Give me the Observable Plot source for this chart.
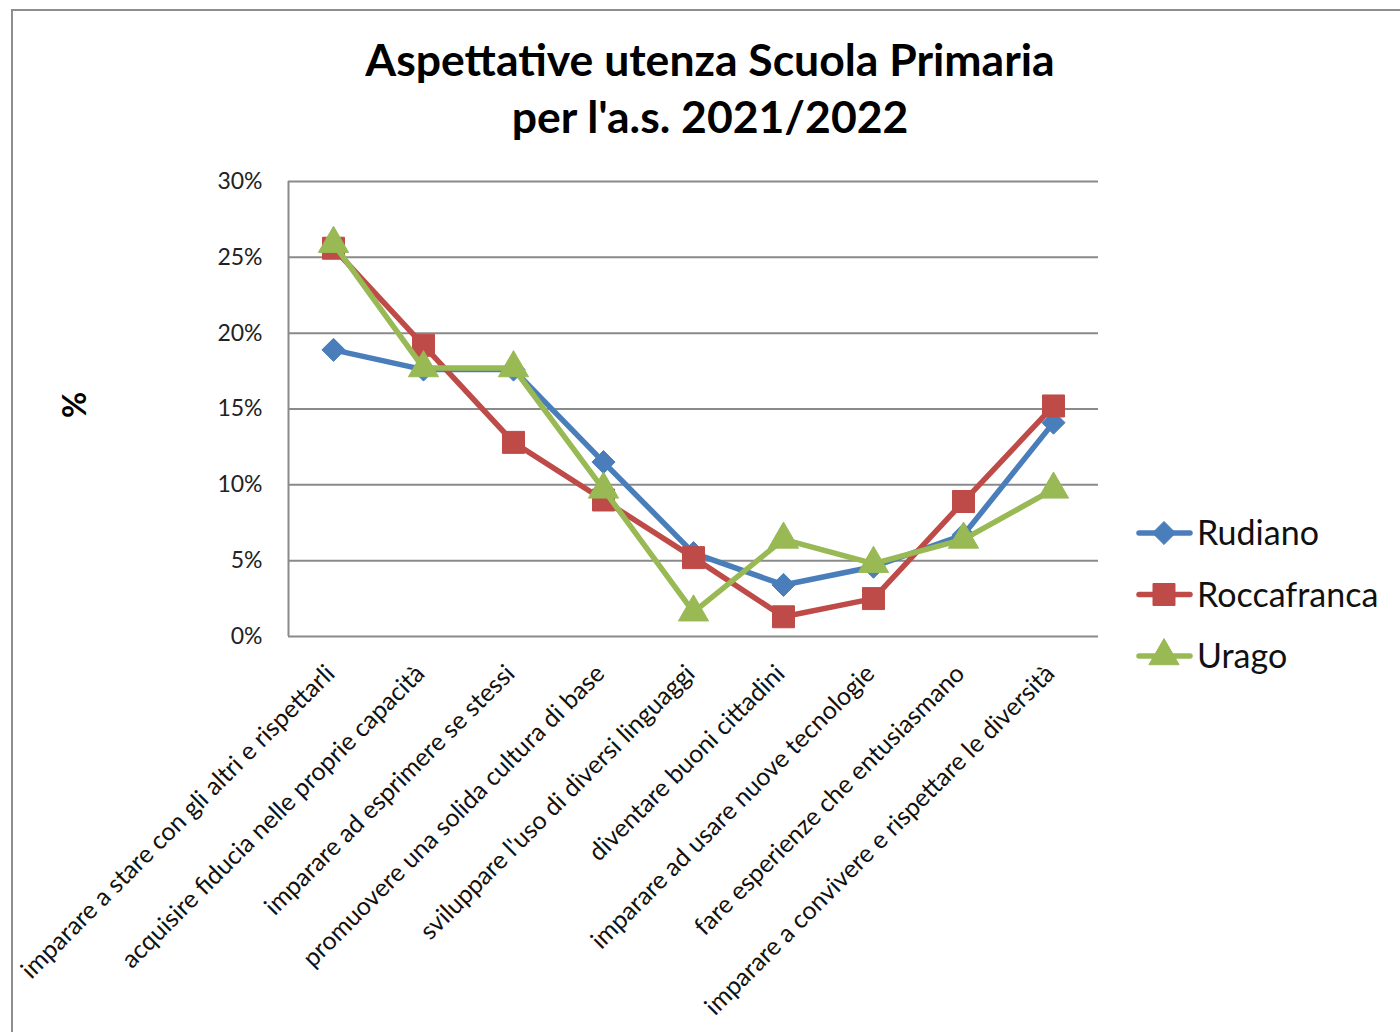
<!DOCTYPE html>
<html>
<head>
<meta charset="utf-8">
<script src="https://cdn.jsdelivr.net/npm/d3@7"></script>
<script src="https://cdn.jsdelivr.net/npm/@observablehq/plot@0.6"></script>
<style>
  body { margin: 0; background: #fff; font-family: Lato, "Open Sans", sans-serif; }
  #wrap { position: relative; width: 1400px; height: 1032px; overflow: hidden; background: #fff; }
  #chart { position: absolute; left: 0; top: 0; }
  #frame { position: absolute; left: 11px; top: 9px; width: 1450px; height: 1100px; border: 2px solid #8e8e8e; box-sizing: border-box; pointer-events: none; }
  #title { position: absolute; left: 0; width: 1420px; top: 30px; text-align: center; font-weight: bold; font-size: 44.5px; line-height: 57px; color: #000; }
  #ylabel { position: absolute; left: 73px; top: 405px; transform: translate(-50%, -50%) rotate(-90deg); font-weight: bold; font-size: 32px; color: #000; }
  #legend { position: absolute; left: 0; top: 0; }
</style>
</head>
<body>
<div id="wrap">
  <div id="chart"></div>
  <div id="title">Aspettative utenza Scuola Primaria<br>per l'a.s. 2021/2022</div>
  <div id="ylabel">%</div>
  <svg id="legend" width="1400" height="1032"></svg>
  <div id="frame"></div>
</div>
<script>
const categories = [
  "imparare a stare con gli altri e rispettarli",
  "acquisire fiducia nelle proprie capacità",
  "imparare ad esprimere se stessi",
  "promuovere una solida cultura di base",
  "sviluppare l'uso di diversi linguaggi",
  "diventare buoni cittadini",
  "imparare ad usare nuove tecnologie",
  "fare esperienze che entusiasmano",
  "imparare a convivere e rispettare le diversità"
];
const seriesNames = ["Rudiano", "Roccafranca", "Urago"];
const rudiano     = [18.9, 17.6, 17.6, 11.5, 5.5, 3.4, 4.6, 6.7, 14.1];
const roccafranca = [25.6, 19.2, 12.8, 9.0, 5.2, 1.3, 2.5, 8.9, 15.2];
const urago       = [25.9, 17.7, 17.7, 9.7, 1.6, 6.4, 4.8, 6.4, 9.7];
const yTicks = [0, 0.05, 0.10, 0.15, 0.20, 0.25, 0.30];

const seriesValues = [rudiano, roccafranca, urago];
const colors = ["#4A7EBB", "#BE4B48", "#98B954"];
const symbols = ["diamond2", "square", "triangle"];
const radii = [10.4, 12.4, 11.2];

const data = seriesNames.map((s, si) =>
  categories.map((c, i) => ({series: s, cat: c, value: seriesValues[si][i] / 100}))
);

const seriesMarks = data.flatMap((rows, si) => [
  Plot.line(rows, {x: "cat", y: "value", stroke: colors[si], strokeWidth: 5.5, strokeLinejoin: "round"}),
  Plot.dot(rows, {x: "cat", y: "value", symbol: symbols[si], r: radii[si], fill: colors[si], stroke: colors[si], strokeWidth: 1})
]);

const chart = Plot.plot({
  width: 1400,
  height: 1032,
  marginTop: 181,
  marginBottom: 396,
  marginLeft: 288,
  marginRight: 302,
  style: {background: "transparent", fontFamily: "Lato, 'Open Sans', sans-serif", color: "#000"},
  x: {type: "point", domain: categories, padding: 0.5, label: null},
  y: {domain: [0, 0.3], label: null},
  marks: [
    Plot.gridY(yTicks, {stroke: "#8a8a8a", strokeOpacity: 1, strokeWidth: 2}),
    Plot.ruleX([categories[0]], {dx: -45, stroke: "#8a8a8a", strokeWidth: 2}),
    Plot.axisY(yTicks, {tickSize: 0, tickPadding: 26, fontSize: 23, fill: "#222",
      tickFormat: d => Math.round(d * 100) + "%"}),
    Plot.axisX({tickRotate: -45, tickSize: 0, tickPadding: 33, dx: -3, fontSize: 25, fill: "#111"}),
    ...seriesMarks
  ]
});
document.getElementById("chart").appendChild(chart);

// Legend (to the right of the plot)
const leg = d3.select("#legend");
seriesNames.forEach((s, i) => {
  const cy = 533 + i * 61.5;
  const g = leg.append("g");
  g.append("line").attr("x1", 1139).attr("x2", 1190).attr("y1", cy).attr("y2", cy)
    .attr("stroke", colors[i]).attr("stroke-width", 5.5).attr("stroke-linecap", "round");
  const symType = [d3.symbolDiamond2, d3.symbolSquare, d3.symbolTriangle][i];
  g.append("path").attr("d", d3.symbol(symType, Math.PI * radii[i] * radii[i])())
    .attr("transform", `translate(1164,${cy})`).attr("fill", colors[i]).attr("stroke", colors[i]);
  g.append("text").attr("x", 1197).attr("y", cy).attr("dy", "0.36em")
    .attr("font-size", 34).attr("font-family", "Lato, 'Open Sans', sans-serif").attr("fill", "#111").text(s);
});
</script>
</body>
</html>
